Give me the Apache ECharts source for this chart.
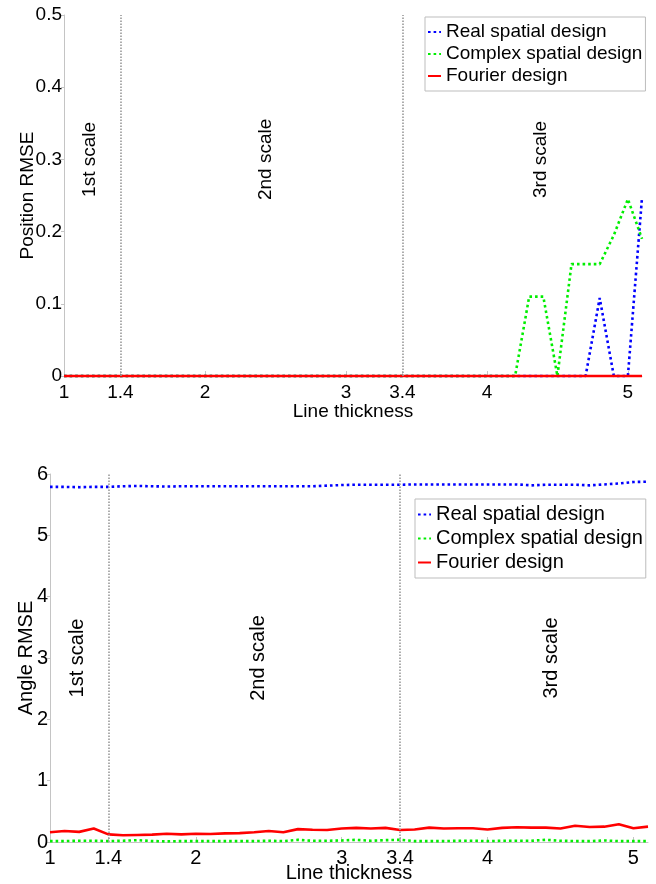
<!DOCTYPE html>
<html>
<head>
<meta charset="utf-8">
<script src="https://cdn.jsdelivr.net/npm/echarts@6/dist/echarts.min.js"></script>
<style>html,body{margin:0;padding:0;background:#fff;}#c{width:656px;height:884px;}</style>
</head>
<body>
<div id="c"></div>
<script>
// ---- data ----
var thickness = [1.0,1.1,1.2,1.3,1.4,1.5,1.6,1.7,1.8,1.9,2.0,2.1,2.2,2.3,2.4,2.5,2.6,2.7,2.8,2.9,3.0,3.1,3.2,3.3,3.4,3.5,3.6,3.7,3.8,3.9,4.0,4.1,4.2,4.3,4.4,4.5,4.6,4.7,4.8,4.9,5.0,5.1];
var xTickValues = [1, 1.4, 2, 3, 3.4, 4, 5];
var scaleBoundaries = [1.4, 3.4];
var scaleNames = ['1st scale', '2nd scale', '3rd scale'];
var seriesNames = ['Real spatial design', 'Complex spatial design', 'Fourier design'];

// Position RMSE (top)
var posReal = [0,0,0,0,0,0,0,0,0,0,0,0,0,0,0,0,0,0,0,0,0,0,0,0,0,0,0,0,0,0,0,0,0,0,0,0,0,0,0.108,0,0,0.247];
var posComplex = [0,0,0,0,0,0,0,0,0,0,0,0,0,0,0,0,0,0,0,0,0,0,0,0,0,0,0,0,0,0,0,0,0,0.11,0.11,0,0.155,0.155,0.155,0.195,0.245,0.19];
var posFourier = [0,0,0,0,0,0,0,0,0,0,0,0,0,0,0,0,0,0,0,0,0,0,0,0,0,0,0,0,0,0,0,0,0,0,0,0,0,0,0,0,0,0];

// Angle RMSE (bottom)
var angReal = [5.79,5.79,5.785,5.79,5.79,5.80,5.805,5.80,5.795,5.80,5.80,5.80,5.80,5.80,5.80,5.80,5.80,5.80,5.80,5.81,5.82,5.825,5.825,5.825,5.825,5.83,5.83,5.83,5.83,5.83,5.83,5.83,5.83,5.815,5.825,5.825,5.825,5.815,5.83,5.845,5.87,5.875];
var angComplex = [0.015,0.015,0.02,0.02,0.015,0.02,0.03,0.015,0.01,0.015,0.015,0.015,0.015,0.015,0.015,0.02,0.015,0.035,0.02,0.02,0.025,0.035,0.02,0.03,0.035,0.015,0.015,0.015,0.02,0.02,0.015,0.02,0.02,0.02,0.035,0.02,0.015,0.015,0.025,0.015,0.015,0.015];
var angFourier = [0.16,0.18,0.165,0.22,0.125,0.11,0.115,0.12,0.135,0.125,0.135,0.13,0.14,0.145,0.16,0.18,0.16,0.21,0.20,0.195,0.22,0.23,0.22,0.23,0.195,0.205,0.235,0.22,0.225,0.225,0.205,0.23,0.24,0.235,0.235,0.22,0.265,0.245,0.25,0.29,0.225,0.25];

// annotation anchors (data coords)
var topNoteX = [1.18, 2.43, 4.38], topNoteY = 0.3;
var botNoteX = [1.19, 2.43, 4.44], botNoteY = 3.0;

function pairs(ys) { return thickness.map(function (x, i) { return [x, ys[i]]; }); }

var FONT = '"Liberation Sans", Arial, Helvetica, sans-serif';
var BLUE = '#0000ff', GREEN = '#00ee00', RED = '#ff0000';
var AXISC = '#c4c4c4';

function xAxisCfg(gi, fs, margin, nameGap) {
  return {
    type: 'value', gridIndex: gi, min: 1, max: 5.1,
    name: 'Line thickness', nameLocation: 'middle', nameGap: nameGap, nameMoveOverlap: false,
    nameTextStyle: { fontFamily: FONT, fontSize: fs, color: '#000' },
    axisLine: { show: true, lineStyle: { color: AXISC, width: 1 } },
    axisTick: { show: true, inside: true, length: 5, customValues: xTickValues, lineStyle: { color: AXISC } },
    axisLabel: { customValues: xTickValues, margin: margin, fontFamily: FONT, fontSize: fs, color: '#000',
      formatter: function (v) { return String(Math.round(v * 10) / 10); } },
    splitLine: { show: false }
  };
}
function yAxisCfg(gi, max, interval, name, fs, nameGap) {
  return {
    type: 'value', gridIndex: gi, min: 0, max: max, interval: interval,
    name: name, nameLocation: 'middle', nameGap: nameGap, nameMoveOverlap: false,
    nameTextStyle: { fontFamily: FONT, fontSize: fs, color: '#000' },
    axisLine: { show: true, lineStyle: { color: AXISC, width: 1 } },
    axisTick: { show: true, inside: false, length: 3, lineStyle: { color: AXISC } },
    axisLabel: { margin: 2, fontFamily: FONT, fontSize: fs, color: '#000' },
    splitLine: { show: false }
  };
}
function lineSeries(name, data, gi, color, dotted) {
  return {
    name: name, type: 'line', xAxisIndex: gi, yAxisIndex: gi, data: pairs(data),
    symbol: 'none', silent: true, animation: false, clip: false,
    lineStyle: { color: color, width: 2.6, type: dotted ? [2.6, 3] : 'solid' },
    itemStyle: { color: color }
  };
}
function notes(gi, xs, y, fs) {
  return {
    type: 'scatter', xAxisIndex: gi, yAxisIndex: gi, silent: true, animation: false,
    symbol: 'circle', symbolSize: 0, itemStyle: { color: '#000', opacity: 1 },
    data: xs.map(function (x, i) { return { value: [x, y], name: scaleNames[i] }; }),
    label: { show: true, position: [0, 0], rotate: 90, formatter: '{b}', opacity: 1,
      fontFamily: FONT, fontSize: fs, color: '#000', align: 'center', verticalAlign: 'middle',
      textBorderWidth: 0 },
    labelLayout: { hideOverlap: false }
  };
}
function boundaryMarks() {
  return {
    silent: true, symbol: ['none', 'none'], label: { show: false },
    lineStyle: { color: '#9a9a9a', width: 1.6, type: [1.5, 1.5] },
    data: scaleBoundaries.map(function (b) { return { xAxis: b }; })
  };
}
function legendCfg(left, top, fs, lh, gap) {
  return {
    data: seriesNames, orient: 'vertical', left: left, top: top,
    backgroundColor: '#fff', borderColor: '#bdbdbd', borderWidth: 1, borderRadius: 0,
    padding: [5, 3, 5, 2], itemGap: gap, itemWidth: 13, itemHeight: 12,
    itemStyle: { opacity: 0 },
    textStyle: { fontFamily: FONT, fontSize: fs, color: '#000', lineHeight: lh },
    selectedMode: false
  };
}

var topBlue = lineSeries(seriesNames[0], posReal, 0, BLUE, true);
var topGreen = lineSeries(seriesNames[1], posComplex, 0, GREEN, true);
var topRed = lineSeries(seriesNames[2], posFourier, 0, RED, false);
topBlue.markLine = boundaryMarks();
var botBlue = lineSeries(seriesNames[0], angReal, 1, BLUE, true);
var botGreen = lineSeries(seriesNames[1], angComplex, 1, GREEN, true);
var botRed = lineSeries(seriesNames[2], angFourier, 1, RED, false);
botBlue.markLine = boundaryMarks();

var chart = echarts.init(document.getElementById('c'), null, { renderer: 'canvas' });
chart.setOption({
  animation: false,
  backgroundColor: '#fff',
  grid: [
    { left: 64, right: 14, top: 15, height: 361 },
    { left: 50, right: 8, top: 474, height: 369 }
  ],
  xAxis: [xAxisCfg(0, 19, 7, 26), xAxisCfg(1, 20, 6, 21)],
  yAxis: [yAxisCfg(0, 0.5, 0.1, 'Position RMSE', 19, 27), yAxisCfg(1, 6, 1, 'Angle RMSE', 20, 14)],
  legend: [legendCfg(425, 17, 19, 20, 2), legendCfg(415, 499, 20, 21, 3)],
  series: [topBlue, topGreen, topRed, notes(0, topNoteX, topNoteY, 19),
           botBlue, botGreen, botRed, notes(1, botNoteX, botNoteY, 20)]
});
</script>
</body>
</html>
